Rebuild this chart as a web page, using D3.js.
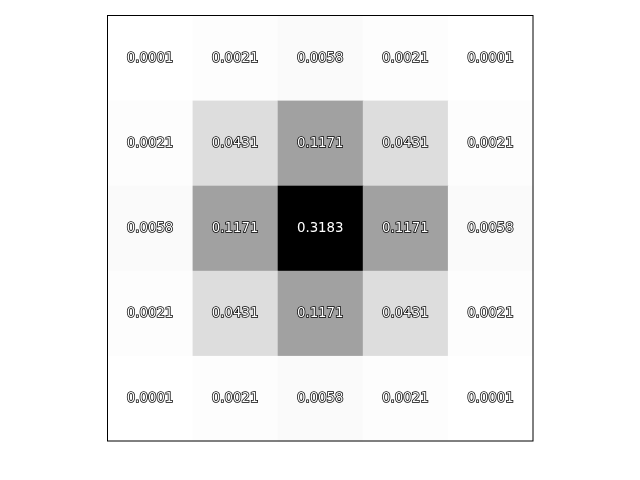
<!DOCTYPE html>
<html><head><meta charset="utf-8">
<script src="https://cdn.jsdelivr.net/npm/d3@7"></script>
<style>body{margin:0;background:#fff}</style>
</head><body>
<svg id="c" width="640" height="480"></svg>
<script>
const rows = [0,1,2,3,4];
const cols = [0,1,2,3,4];
const values = [
  [0.0001, 0.0021, 0.0058, 0.0021, 0.0001],
  [0.0021, 0.0431, 0.1171, 0.0431, 0.0021],
  [0.0058, 0.1171, 0.3183, 0.1171, 0.0058],
  [0.0021, 0.0431, 0.1171, 0.0431, 0.0021],
  [0.0001, 0.0021, 0.0058, 0.0021, 0.0001]
];
const svg = d3.select("#c");
const L = 107.5, T = 15.5, S = 425.5;
const x = d3.scaleBand().domain(cols).range([L, L+S]);
const y = d3.scaleBand().domain(rows).range([T, T+S]);
const flat = [];
values.forEach((r,i)=>r.forEach((v,j)=>flat.push({i,j,v})));
const vmin = d3.min(flat, d=>d.v), vmax = d3.max(flat, d=>d.v);
const color = d3.scaleLinear().domain([vmin, vmax]).range(["#ffffff","#000000"]);
svg.selectAll("rect.cell").data(flat).join("rect")
  .attr("x", d=>x(d.j)).attr("y", d=>y(d.i))
  .attr("width", x.bandwidth()+0.5).attr("height", y.bandwidth()+0.5)
  .attr("fill", d=>color(d.v));
const defs = svg.append("defs");
defs.append("filter").attr("id","gs").attr("x",0).attr("y",0).attr("width",1).attr("height",1)
  .append("feOffset").attr("dx",0).attr("dy",0);
const g = svg.append("g").attr("filter","url(#gs)");
g.selectAll("text.lab").data(flat).join("text")
  .attr("x", d=>x(d.j)+x.bandwidth()/2)
  .attr("y", d=>y(d.i)+y.bandwidth()/2 - 1)
  .attr("text-anchor","middle").attr("dominant-baseline","central")
  .attr("font-family","DejaVu Sans").attr("font-size","13.33px")
  .attr("fill","#fff").attr("stroke","#000").attr("stroke-width",1.5)
  .attr("paint-order","stroke")
  .text(d=>d.v.toFixed(4));
svg.append("rect").attr("x",L).attr("y",T).attr("width",S).attr("height",S)
  .attr("fill","none").attr("stroke","#000").attr("stroke-width",1);
</script>
</body></html>
